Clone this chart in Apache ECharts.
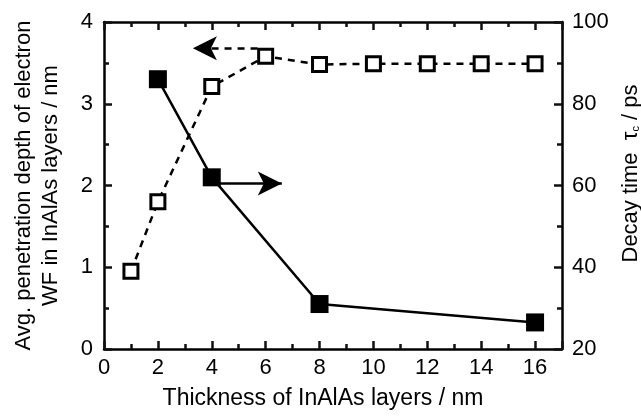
<!DOCTYPE html>
<html>
<head>
<meta charset="utf-8">
<script src="https://cdn.jsdelivr.net/npm/echarts@6/dist/echarts.min.js"></script>
<style>
html, body { margin: 0; padding: 0; background: #fff; }
#chart { width: 641px; height: 419px; }
</style>
</head>
<body>
<div id="chart"></div>
<script>
var thickness   = [1, 2, 4, 6, 8, 10, 12, 14, 16];
var penetration = [0.95, 1.8, 3.21, 3.58, 3.48, 3.49, 3.49, 3.49, 3.49];
var decayX      = [2, 4, 8, 16];
var decayTime   = [86, 62, 31, 26.5];
var xTicks      = [0, 2, 4, 6, 8, 10, 12, 14, 16];

var font = 'Liberation Sans, Arial, sans-serif';

var chart = echarts.init(document.getElementById('chart'));

function pairs(xs, ys)
{
    return xs.map(function(x, k) { return [x, ys[k]]; });
}

// fresh objects for every axis; onZero off so the right axis stays on the right
function line()  { return { show: true, onZero: false, lineStyle: { color: '#000', width: 2.5 } }; }
function tick()  { return { show: true, inside: true, length: 8, lineStyle: { color: '#111111', width: 2.5 } }; }
function minor() { return { show: true, splitNumber: 2, length: 5, lineStyle: { color: '#111111', width: 2.5 } }; }

var option = {
    animation: false,
    grid: { left: 104, right: 79, top: 22, bottom: 70, outerBoundsMode: 'none', containLabel: false },
    xAxis: [
        {
            type: 'value', min: 0, max: 17, interval: 2,
            name: 'Thickness of InAlAs layers / nm',
            nameLocation: 'middle', nameGap: 38,
            nameTextStyle: { fontFamily: font, fontSize: 23, color: '#000', padding: [0, 20, 0, 0] },
            axisLine: line(), axisTick: tick(), minorTick: minor(),
            splitLine: { show: false }, minorSplitLine: { show: false },
            axisLabel: {
                fontFamily: font, fontSize: 22, color: '#000', margin: 8,
                formatter: function(v) { return xTicks.indexOf(v) >= 0 ? String(v) : ''; }
            }
        },
        {
            type: 'value', position: 'top', min: 0, max: 17, interval: 2,
            axisLine: line(), axisTick: tick(), minorTick: minor(),
            splitLine: { show: false }, axisLabel: { show: false }
        }
    ],
    yAxis: [
        {
            type: 'value', position: 'left', min: 0, max: 4, interval: 1,
            name: 'Avg. penetration depth of electron\nWF in InAlAs layers / nm',
            nameLocation: 'middle', nameGap: 40,
            nameTextStyle: { fontFamily: font, fontSize: 22, color: '#000', lineHeight: 27 },
            axisLine: line(), axisTick: tick(), minorTick: minor(),
            splitLine: { show: false },
            axisLabel: { fontFamily: font, fontSize: 22, color: '#000', margin: 11 }
        },
        {
            type: 'value', position: 'right', min: 20, max: 100, interval: 20,
            name: 'Decay time  τ{s|c} / ps',
            nameLocation: 'middle', nameGap: 56, nameRotate: 90,
            nameTextStyle: {
                fontFamily: font, fontSize: 22, color: '#000', padding: [0, 0, 0, 24],
                rich: { s: { fontFamily: font, fontSize: 11, color: '#000', padding: [10, 0, 0, 0] } }
            },
            axisLine: line(), axisTick: tick(), minorTick: minor(),
            splitLine: { show: false },
            axisLabel: { fontFamily: font, fontSize: 22, color: '#000', margin: 10 }
        }
    ],
    series: [
        {
            name: 'penetration',
            type: 'line',
            xAxisIndex: 0, yAxisIndex: 0,
            data: pairs(thickness, penetration),
            symbol: 'rect', symbolSize: 14,
            itemStyle: { color: '#fff', borderColor: '#000', borderWidth: 3 },
            lineStyle: { color: '#000', width: 2.5, type: [7, 6] },
            markLine: {
                silent: true,
                symbol: ['none', 'arrow'], symbolSize: [18, 24],
                label: { show: false },
                lineStyle: { color: '#000', width: 2.5, type: [7, 6] },
                data: [[{ coord: [5.7, 3.68] }, { coord: [3.3, 3.68] }]]
            },
            z: 3
        },
        {
            name: 'decay',
            type: 'line',
            xAxisIndex: 0, yAxisIndex: 1,
            data: pairs(decayX, decayTime),
            symbol: 'rect', symbolSize: 18,
            itemStyle: { color: '#000', borderColor: '#000', borderWidth: 0 },
            lineStyle: { color: '#000', width: 2.5 },
            markLine: {
                silent: true,
                symbol: ['none', 'arrow'], symbolSize: [18, 24],
                label: { show: false },
                lineStyle: { color: '#000', width: 2.5, type: 'solid' },
                data: [[{ coord: [4.3, 60.5] }, { coord: [6.6, 60.5] }]]
            },
            z: 4
        }
    ]
};

option && chart.setOption(option);
</script>
</body>
</html>
